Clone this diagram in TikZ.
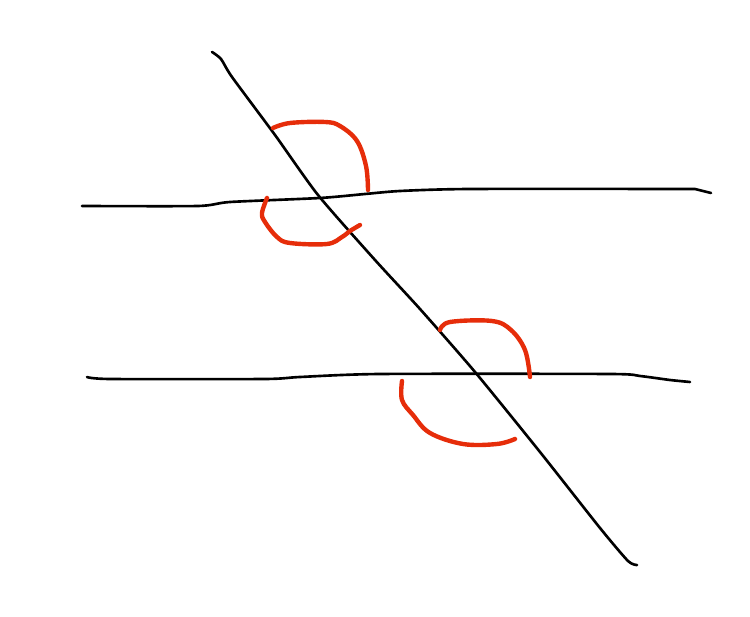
\documentclass[tikz,border=0pt]{standalone}
\begin{document}
\begin{tikzpicture}[x=0.02cm,y=-0.02cm,
  pen/.style={line width=1.5pt,black,line cap=round,line join=round},
  mark red/.style={line width=2.5pt,color={rgb,255:red,230;green,45;blue,10},line cap=round,line join=round}]
\useasboundingbox (0,0) rectangle (750,617);
% upper parallel line
\draw[pen] plot[smooth,tension=0.4] coordinates {(82,206) (198,206) (230,202) (320,198) (365,194) (400,191) (470,189) (695,189)} -- (711,193);
% lower parallel line
\draw[pen] plot[smooth,tension=0.4] coordinates {(87,377) (110,379) (265,379) (300,377) (380,374) (610,374) (640,376) (670,380) (690,382)};
% transversal
\draw[pen] plot[smooth,tension=0.4] coordinates {(212,52) (221,59) (232,77) (275,135) (318,195) (375,260) (420,309) (475,372) (540,452) (600,528) (628,561) (637,565)};
% red angle marks
\draw[mark red] plot[smooth,tension=0.6] coordinates {(273,128) (290,123) (325,122) (340,126) (357,141) (366,166) (368,190)};
\draw[mark red] plot[smooth,tension=0.6] coordinates {(267,198) (262,213) (265,222) (277,237) (290,243) (327,244) (342,237) (350,231) (360,225)};
\draw[mark red] plot[smooth,tension=0.6] coordinates {(440,330) (450,322) (492,321) (511,330) (525,350) (530,377)};
\draw[mark red] plot[smooth,tension=0.6] coordinates {(402,381) (402,400) (413,415) (430,433) (463,444) (497,444) (515,439)};
\end{tikzpicture}
\end{document}
